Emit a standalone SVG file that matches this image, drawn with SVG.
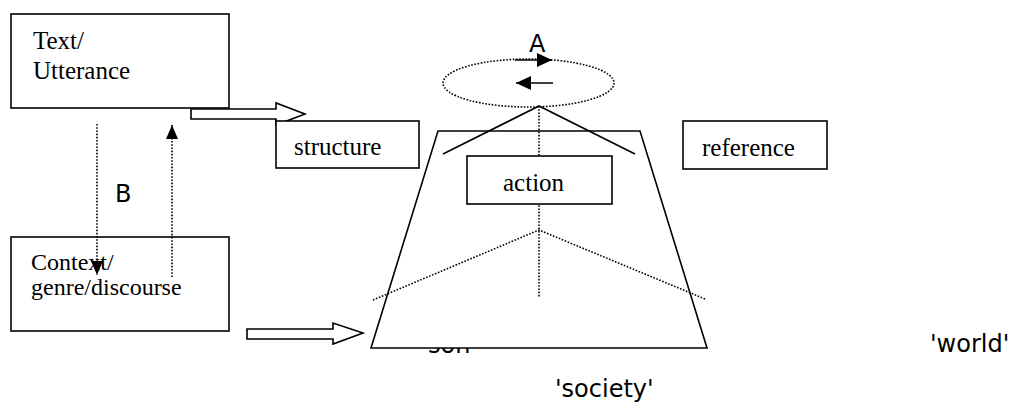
<svg xmlns="http://www.w3.org/2000/svg" width="1014" height="408" viewBox="0 0 1014 408">
<style>
.box{fill:#fff;stroke:#000;stroke-width:1.6}
.open{fill:none;stroke:#000;stroke-width:1.6}
.solid{fill:none;stroke:#000;stroke-width:1.6}
.dot{fill:none;stroke:#000;stroke-width:1.6;stroke-dasharray:1.6 1.6}
.hollow{fill:#fff;stroke:#000;stroke-width:1.6;stroke-linejoin:miter}
.serif{font-family:"Liberation Serif","Times New Roman",serif;font-size:25px;fill:#000}
.sans{font-family:"DejaVu Sans",Verdana,sans-serif;font-size:24px;fill:#000}
</style>
<defs>
<marker id="ah" markerUnits="userSpaceOnUse" markerWidth="15" markerHeight="14" refX="15" refY="7" orient="auto">
<path d="M0,0 L15,7 L0,14 z" fill="#000"/>
</marker>
<marker id="ahs" markerUnits="userSpaceOnUse" markerWidth="14" markerHeight="14" refX="14" refY="7" orient="auto">
<path d="M0,1 L14,7 L0,13 z" fill="#000"/>
</marker>
</defs>
<rect width="1014" height="408" fill="#fff"/>

<text class="sans" x="428" y="353">son</text>

<g id="society">
<polygon class="box" points="438,131 640,131 707,348 371,348"/>
</g>

<g id="context">
<rect class="open" x="11" y="237" width="218" height="94"/>
<text class="serif" x="31" y="270" style="font-size:24px">Context/</text>
<text class="serif" x="31" y="295" style="font-size:24px">genre/discourse</text>
</g>

<g id="connectors">
<polygon class="hollow" points="191,109 276,109 276,103 305,114 276,125 276,119 191,119"/>
<polygon class="hollow" points="247,329 333,329 333,323 363,333 333,344 333,339 247,339"/>
<line class="dot" x1="97" y1="124" x2="97" y2="275" marker-end="url(#ahs)"/>
<line class="dot" x1="172" y1="277" x2="172" y2="125" marker-end="url(#ahs)"/>
<polyline class="solid" points="443,154 539,106 635,154"/>
<line class="dot" x1="539" y1="106" x2="539" y2="298"/>
<polyline class="dot" points="373,300 539,230 705,299"/>
<line class="solid" x1="515" y1="60" x2="552" y2="60" marker-end="url(#ah)"/>
<line class="solid" x1="553" y1="83" x2="516" y2="83" marker-end="url(#ah)"/>
</g>

<g id="cycle">
<ellipse class="dot" cx="528.5" cy="83" rx="85.5" ry="24"/>
<text class="sans" x="529" y="52">A</text>
</g>

<g id="text-utterance">
<rect class="box" x="11" y="14" width="218" height="94"/>
<text class="serif" x="33" y="49">Text/</text>
<text class="serif" x="33" y="79">Utterance</text>
</g>

<g id="structure">
<rect class="box" x="276" y="121" width="143" height="47"/>
<text class="serif" x="294" y="155">structure</text>
</g>

<g id="reference">
<rect class="box" x="683" y="121" width="144" height="48"/>
<text class="serif" x="702" y="156">reference</text>
</g>

<g id="action">
<rect class="box" x="467" y="156" width="145" height="48"/>
<text class="serif" x="503" y="191">action</text>
</g>

<text class="sans" x="115" y="202">B</text>
<text class="sans" x="930" y="352">'world'</text>
<text class="sans" x="555" y="397">'society'</text>
</svg>
